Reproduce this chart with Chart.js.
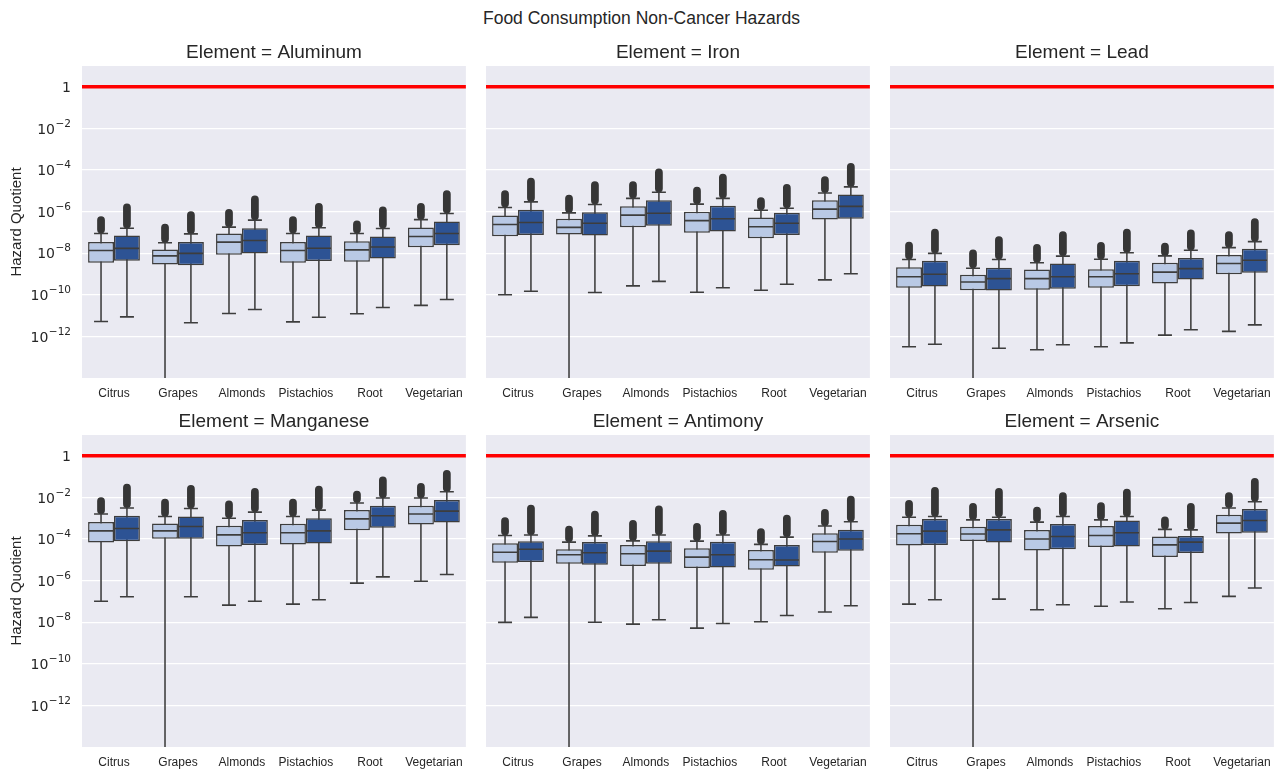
<!DOCTYPE html>
<html>
<head>
<meta charset="utf-8">
<script src="https://cdn.jsdelivr.net/npm/chart.js@4.4.0/dist/chart.umd.min.js"></script>
<style>
  html, body { margin: 0; padding: 0; background: #fff; }
  #wrap { position: relative; width: 1283px; height: 774px; overflow: hidden; }
  #title { position: absolute; top: 8px; left: 0; width: 1283px; text-align: center;
           font: 17.5px "Liberation Sans", Arial, sans-serif; line-height: 20px; color: #262626; }
  canvas { position: absolute; }
</style>
</head>
<body>
<div id="wrap">
  <div id="title">Food Consumption Non-Cancer Hazards</div>
</div>
<script>
const categories = ['Citrus', 'Grapes', 'Almonds', 'Pistachios', 'Root', 'Vegetarian'];
const elements = ['Aluminum', 'Iron', 'Lead', 'Manganese', 'Antimony', 'Arsenic'];
const yTickValues = [1, 1e-2, 1e-4, 1e-6, 1e-8, 1e-10, 1e-12];
const yTickBases = ['1', '10', '10', '10', '10', '10', '10'];
const yTickExponents = ['', '−2', '−4', '−6', '−8', '−10', '−12'];
const hazardLimit = 1;

// one row per category: [lower whisker, Q1, median, Q3, upper whisker, highest outlier]
const aluminumA = [
  [5.2e-12, 3.5e-9, 1.35e-8, 3.5e-8, 8.9e-8, 6.0e-7],
  [1e-16, 2.9e-9, 7.4e-9, 1.5e-8, 3.2e-8, 2.6e-7],
  [1.26e-11, 8.5e-9, 3.4e-8, 8.9e-8, 1.8e-7, 1.35e-6],
  [5.0e-12, 3.5e-9, 1.35e-8, 3.5e-8, 8.9e-8, 6.0e-7],
  [1.23e-11, 3.9e-9, 1.45e-8, 3.8e-8, 8.9e-8, 3.7e-7],
  [3.1e-11, 1.95e-8, 6.3e-8, 1.74e-7, 4.1e-7, 2.6e-6]
];
const aluminumB = [
  [8.7e-12, 4.3e-9, 1.7e-8, 7.1e-8, 1.58e-7, 2.45e-6],
  [4.5e-12, 2.6e-9, 9.8e-9, 3.5e-8, 8.5e-8, 1.05e-6],
  [1.95e-11, 9.8e-9, 4.1e-8, 1.58e-7, 3.9e-7, 5.9e-6],
  [8.3e-12, 4.2e-9, 1.74e-8, 7.1e-8, 1.66e-7, 2.6e-6],
  [2.45e-11, 5.6e-9, 2.0e-8, 6.3e-8, 1.55e-7, 1.78e-6],
  [5.9e-11, 2.4e-8, 8.9e-8, 3.3e-7, 8.1e-7, 1.07e-5]
];
const ironA = [
  [1.0e-10, 6.6e-8, 2.4e-7, 6.5e-7, 1.58e-6, 1.07e-5],
  [1e-16, 7.9e-8, 1.74e-7, 4.5e-7, 8.7e-7, 6.5e-6],
  [2.7e-10, 1.78e-7, 6.8e-7, 1.82e-6, 4.3e-6, 2.9e-5],
  [1.32e-10, 9.5e-8, 3.7e-7, 9.8e-7, 2.3e-6, 1.55e-5],
  [1.66e-10, 5.2e-8, 1.86e-7, 5.2e-7, 1.17e-6, 4.9e-6],
  [5.2e-10, 4.2e-7, 1.32e-6, 3.5e-6, 7.9e-6, 5.0e-5]
];
const ironB = [
  [1.48e-10, 7.6e-8, 3.0e-7, 1.23e-6, 2.95e-6, 4.2e-5],
  [1.29e-10, 7.1e-8, 2.75e-7, 9.3e-7, 2.2e-6, 2.9e-5],
  [4.4e-10, 2.1e-7, 8.3e-7, 3.5e-6, 8.5e-6, 1.17e-4],
  [2.2e-10, 1.1e-7, 4.5e-7, 1.9e-6, 4.3e-6, 6.6e-5],
  [3.2e-10, 7.6e-8, 2.75e-7, 8.7e-7, 1.45e-6, 2.1e-5],
  [1.02e-9, 4.5e-7, 1.78e-6, 6.6e-6, 1.55e-5, 2.2e-4]
];
const leadA = [
  [3.2e-13, 2.2e-10, 7.4e-10, 2.1e-9, 5.0e-9, 3.6e-8],
  [1e-16, 1.66e-10, 4.1e-10, 9.1e-10, 1.9e-9, 1.5e-8],
  [2.3e-13, 1.74e-10, 6.0e-10, 1.66e-9, 3.5e-9, 2.8e-8],
  [3.2e-13, 2.2e-10, 7.4e-10, 1.7e-9, 5.1e-9, 3.5e-8],
  [1.15e-12, 3.5e-10, 1.23e-9, 3.5e-9, 7.4e-9, 3.2e-8],
  [1.74e-12, 9.8e-10, 3.2e-9, 8.3e-9, 1.86e-8, 1.15e-7]
];
const leadB = [
  [4.2e-13, 2.5e-10, 9.8e-10, 4.3e-9, 9.8e-9, 1.48e-7],
  [2.7e-13, 1.62e-10, 6.0e-10, 2.0e-9, 5.0e-9, 6.6e-8],
  [4.0e-13, 1.95e-10, 7.4e-10, 3.2e-9, 7.2e-9, 1.15e-7],
  [4.9e-13, 2.6e-10, 1.02e-9, 4.3e-9, 1.05e-8, 1.48e-7],
  [2.1e-12, 5.5e-10, 1.82e-9, 5.8e-9, 1.38e-8, 1.38e-7],
  [3.6e-12, 1.15e-9, 4.6e-9, 1.62e-8, 3.6e-8, 4.8e-7]
];
const manganeseA = [
  [1.02e-7, 6.8e-5, 2.45e-4, 6.5e-4, 1.58e-3, 1.02e-2],
  [1e-16, 1.02e-4, 2.45e-4, 5.6e-4, 1.2e-3, 8.5e-3],
  [6.6e-8, 4.4e-5, 1.58e-4, 4.3e-4, 1.0e-3, 7.1e-3],
  [7.4e-8, 5.5e-5, 2.0e-4, 5.4e-4, 1.2e-3, 8.5e-3],
  [7.6e-7, 2.6e-4, 9.3e-4, 2.45e-3, 5.4e-3, 2.1e-2],
  [9.3e-7, 5.0e-4, 1.58e-3, 4.0e-3, 9.3e-3, 4.9e-2]
];
const manganeseB = [
  [1.66e-7, 7.9e-5, 3.2e-4, 1.32e-3, 3.1e-3, 4.5e-2],
  [1.66e-7, 1.02e-4, 4.0e-4, 1.2e-3, 2.95e-3, 3.9e-2],
  [1.02e-7, 5.1e-5, 2.0e-4, 8.3e-4, 1.95e-3, 2.8e-2],
  [1.2e-7, 6.0e-5, 2.45e-4, 1.0e-3, 2.45e-3, 3.6e-2],
  [1.51e-6, 3.5e-4, 1.32e-3, 4.0e-3, 9.3e-3, 1.0e-1],
  [1.95e-6, 6.2e-4, 2.2e-3, 7.6e-3, 1.86e-2, 2.1e-1]
];
const antimonyA = [
  [9.8e-9, 7.2e-6, 2.3e-5, 6.3e-5, 1.48e-4, 1.12e-3],
  [1e-16, 6.5e-6, 1.74e-5, 3.2e-5, 7.1e-5, 4.3e-4],
  [8.1e-9, 5.1e-6, 1.95e-5, 5.2e-5, 8.1e-5, 8.3e-4],
  [5.2e-9, 4.0e-6, 1.35e-5, 3.6e-5, 7.9e-5, 5.8e-4],
  [1.05e-8, 3.3e-6, 1.0e-5, 3.0e-5, 5.5e-5, 3.3e-4],
  [3.1e-8, 2.2e-5, 7.6e-5, 1.9e-4, 4.2e-4, 2.75e-3]
];
const antimonyB = [
  [1.7e-8, 7.9e-6, 3.2e-5, 7.9e-5, 1.55e-4, 4.4e-3],
  [1.0e-8, 5.8e-6, 2.2e-5, 7.1e-5, 1.41e-4, 2.3e-3],
  [1.32e-8, 6.5e-6, 2.6e-5, 7.9e-5, 1.55e-4, 4.1e-3],
  [8.7e-9, 4.3e-6, 1.74e-5, 7.4e-5, 1.55e-4, 2.5e-3],
  [2.1e-8, 4.8e-6, 9.8e-6, 5.2e-5, 1.23e-4, 1.45e-3],
  [6.2e-8, 2.7e-5, 1.0e-4, 2.75e-4, 6.8e-4, 1.2e-2]
];
const arsenicA = [
  [7.4e-8, 4.9e-5, 1.78e-4, 4.8e-4, 1.12e-3, 7.6e-3],
  [1e-16, 8.1e-5, 1.74e-4, 3.9e-4, 8.3e-4, 5.4e-3],
  [4.0e-8, 2.8e-5, 1.0e-4, 2.7e-4, 6.5e-4, 3.6e-3],
  [5.8e-8, 4.1e-5, 1.48e-4, 4.2e-4, 8.3e-4, 5.8e-3],
  [4.4e-8, 1.38e-5, 5.2e-5, 1.32e-4, 2.9e-4, 1.2e-3],
  [1.74e-7, 1.82e-4, 5.8e-4, 1.45e-3, 3.1e-3, 1.78e-2]
];
const arsenicB = [
  [1.2e-7, 5.2e-5, 2.4e-4, 9.1e-4, 1.2e-3, 3.2e-2],
  [1.29e-7, 6.8e-5, 2.75e-4, 9.1e-4, 1.12e-3, 2.8e-2],
  [6.9e-8, 3.2e-5, 1.32e-4, 5.2e-4, 1.2e-3, 1.78e-2],
  [9.3e-8, 4.4e-5, 2.0e-4, 7.8e-4, 1.2e-3, 2.6e-2],
  [8.9e-8, 2.1e-5, 7.1e-5, 1.41e-4, 2.75e-4, 5.4e-3],
  [4.4e-7, 2.0e-4, 7.8e-4, 2.75e-3, 6.2e-3, 8.5e-2]
];

const groupsA = [aluminumA, ironA, leadA, manganeseA, antimonyA, arsenicA];
const groupsB = [aluminumB, ironB, leadB, manganeseB, antimonyB, arsenicB];

const lightBlue = '#b9c9e5';
const darkBlue = '#2d5394';
const lineGray = '#3d3d3d';
const textColor = '#262626';
const sansFont = '"Liberation Sans", Arial, sans-serif';
const mathFont = '"DejaVu Sans", sans-serif';

// canvas placement of the 3x2 grid
const colLeft = [0, 486, 890];
const colWidth = [471, 389, 389];
const rowTop = [43, 412];

// seaborn-like background behind the grid
const panelBackground = {
  id: 'panelBackground',
  beforeDraw(chart) {
    const a = chart.chartArea, ctx = chart.ctx;
    ctx.save();
    ctx.fillStyle = '#eaeaf2';
    ctx.fillRect(a.left, a.top, a.right - a.left, a.bottom - a.top);
    ctx.restore();
  }
};

// red reference line at HQ = 1
const limitLine = {
  id: 'limitLine',
  beforeDatasetsDraw(chart) {
    const a = chart.chartArea, ctx = chart.ctx;
    const y = chart.scales.y.getPixelForValue(hazardLimit);
    ctx.save();
    ctx.strokeStyle = '#ff0000';
    ctx.lineWidth = 3.5;
    ctx.beginPath();
    ctx.moveTo(a.left, y);
    ctx.lineTo(a.right, y);
    ctx.stroke();
    ctx.restore();
  }
};

// medians and whisker caps, placed on the box bars
const boxDetails = {
  id: 'boxDetails',
  afterDatasetsDraw(chart) {
    const a = chart.chartArea, ctx = chart.ctx, yScale = chart.scales.y;
    ctx.save();
    ctx.beginPath();
    ctx.rect(a.left, a.top, a.right - a.left, a.bottom - a.top);
    ctx.clip();
    ctx.strokeStyle = lineGray;
    ctx.lineWidth = 1.6;
    chart.data.datasets.forEach((ds, i) => {
      if (ds.role !== 'box') return;
      chart.getDatasetMeta(i).data.forEach((bar, j) => {
        const row = ds.stats[j];
        const half = bar.width / 2 - 0.8;
        const cap = bar.width * 0.27;
        [[half, row[2]], [cap, row[0]], [cap, row[4]]].forEach(([h, v]) => {
          const py = yScale.getPixelForValue(v);
          ctx.beginPath();
          ctx.moveTo(bar.x - h, py);
          ctx.lineTo(bar.x + h, py);
          ctx.stroke();
        });
      });
    });
    ctx.restore();
  }
};

// mathtext-style "10^-n" labels for the shared log axis (left column only)
const powerLabels = {
  id: 'powerLabels',
  afterDraw(chart) {
    const ctx = chart.ctx, yScale = chart.scales.y;
    const right = chart.chartArea.left - 11;
    ctx.save();
    ctx.fillStyle = textColor;
    ctx.textAlign = 'right';
    ctx.textBaseline = 'middle';
    yTickValues.forEach((v, i) => {
      const py = yScale.getPixelForValue(v);
      ctx.font = '10.5px ' + mathFont;
      const expW = yTickExponents[i] ? ctx.measureText(yTickExponents[i]).width + 0.5 : 0;
      if (expW) ctx.fillText(yTickExponents[i], right, py - 4.5);
      ctx.font = '14px ' + mathFont;
      ctx.fillText(yTickBases[i], right - expW, py + 1.5);
    });
    ctx.restore();
  }
};

function groupDatasets(rows, fill, stack) {
  return [
    {
      role: 'box', stack, order: 1, stats: rows,
      data: rows.map(r => [r[1], r[3]]),
      backgroundColor: fill, borderColor: lineGray, borderWidth: 1.5, borderSkipped: false,
      barPercentage: 1, categoryPercentage: 0.81, clip: 0
    },
    {
      role: 'outliers', stack, order: 2,
      data: rows.map(r => [r[4], r[5]]),
      backgroundColor: '#363636', borderRadius: 4, borderSkipped: false,
      barPercentage: 0.3, categoryPercentage: 0.81, clip: 0
    },
    {
      role: 'whisker', stack, order: 3,
      data: rows.map(r => [r[0], r[4]]),
      backgroundColor: lineGray,
      barPercentage: 0.06, categoryPercentage: 0.81, clip: 0
    }
  ];
}

elements.forEach((name, k) => {
  const col = k % 3, row = Math.floor(k / 3);
  const first = col === 0;
  const canvas = document.createElement('canvas');
  canvas.width = colWidth[col];
  canvas.height = 360;
  canvas.style.left = colLeft[col] + 'px';
  canvas.style.top = rowTop[row] + 'px';
  canvas.style.width = colWidth[col] + 'px';
  canvas.style.height = '360px';
  document.getElementById('wrap').appendChild(canvas);

  new Chart(canvas, {
    type: 'bar',
    data: {
      labels: categories,
      datasets: [
        ...groupDatasets(groupsA[k], lightBlue, 'A'),
        ...groupDatasets(groupsB[k], darkBlue, 'B')
      ]
    },
    options: {
      responsive: false,
      animation: false,
      events: [],
      layout: { padding: 0 },
      plugins: {
        legend: { display: false },
        tooltip: { enabled: false },
        title: {
          display: true,
          text: 'Element = ' + name,
          fullSize: false,
          color: textColor,
          font: { family: sansFont, size: 19, weight: 'normal', lineHeight: '20px' },
          padding: { top: 0, bottom: 3 }
        }
      },
      scales: {
        x: {
          type: 'category',
          grid: { display: false, drawTicks: false },
          border: { display: false },
          ticks: { color: textColor, font: { family: sansFont, size: 12 }, padding: 8, maxRotation: 0 },
          afterFit: s => { s.height = 25; }
        },
        y: {
          type: 'logarithmic',
          min: 1e-14,
          max: 10,
          stacked: false,
          afterBuildTicks: s => { s.ticks = yTickValues.map(v => ({ value: v })); },
          grid: { color: '#ffffff', lineWidth: 1.2, drawTicks: false },
          border: { display: false },
          ticks: { display: false },
          title: {
            display: first,
            text: 'Hazard Quotient',
            color: textColor,
            font: { family: sansFont, size: 15 },
            padding: { top: 8, bottom: 0 }
          },
          afterFit: s => { s.width = first ? 82 : 0; }
        }
      }
    },
    plugins: first ? [panelBackground, limitLine, boxDetails, powerLabels]
                   : [panelBackground, limitLine, boxDetails]
  });
});
</script>
</body>
</html>
